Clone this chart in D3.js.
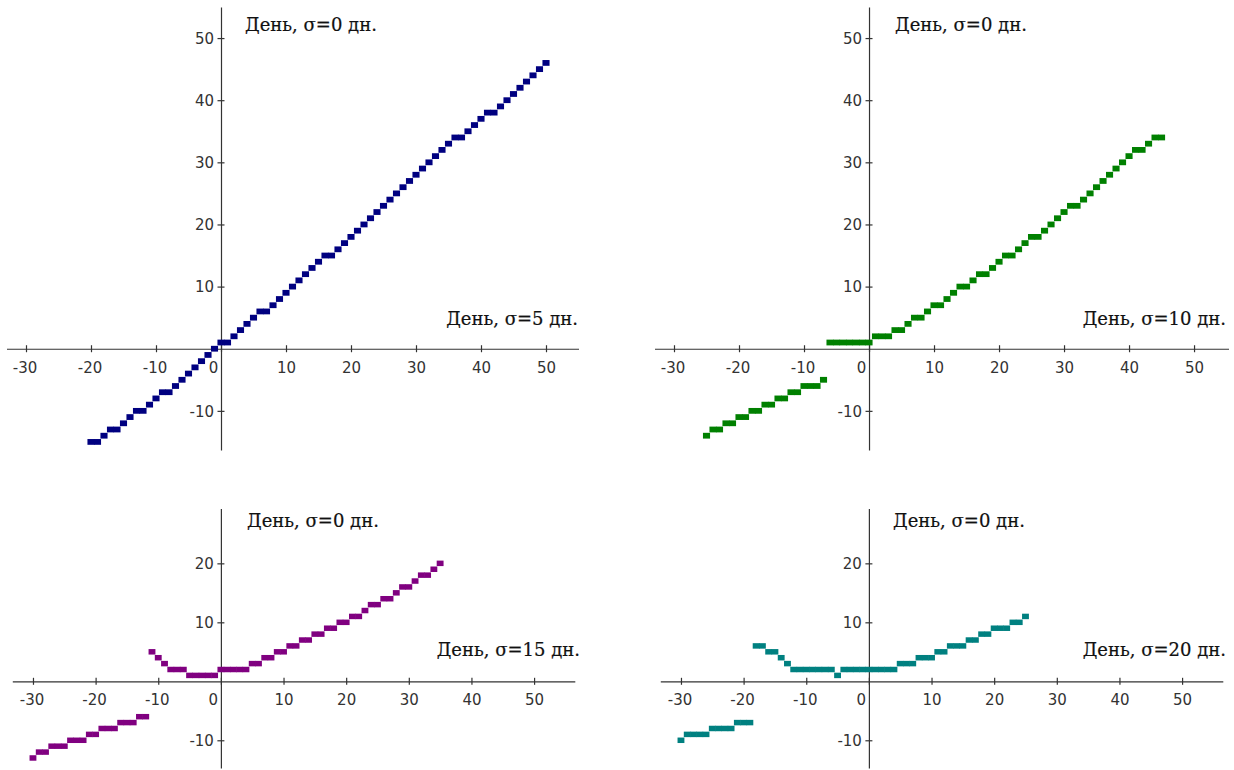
<!DOCTYPE html>
<html>
<head>
<meta charset="utf-8">
<script src="https://cdn.jsdelivr.net/npm/d3@7"></script>
<style>
  html, body { margin: 0; padding: 0; background: #fff; }
  svg { display: block; }
  .axis text { font-family: "DejaVu Sans", Verdana, sans-serif; font-size: 15px; fill: #333; }
  .axis path, .axis line { stroke: #333; stroke-width: 1.2; }
  .note { font-family: "DejaVu Serif", Georgia, serif; font-size: 18px; fill: #111;
          stroke: #111; stroke-width: 0.2; }
</style>
</head>
<body>
<svg id="chart" width="1234" height="770"></svg>
<script>
// Tick values
const xTicks = [-30, -20, -10, 0, 10, 20, 30, 40, 50];
const yTicksUpper = [-10, 10, 20, 30, 40, 50];
const yTicksLower = [-10, 10, 20];

// Texts
const noteTop = "День, σ=0 дн.";
const seriesLabels = ["День, σ=5 дн.", "День, σ=10 дн.", "День, σ=15 дн.", "День, σ=20 дн."];
const seriesColors = ["#000080", "#008000", "#800080", "#008080"];

// σ = 5 days
const days5 = [-20,-19,-18,-17,-16,-15,-14,-13,-12,-11,-10,-9,-8,-7,-6,-5,-4,-3,-2,-1,
  0,1,2,3,4,5,6,7,8,9,10,11,12,13,14,15,16,17,18,19,20,21,22,23,24,25,26,27,28,29,
  30,31,32,33,34,35,36,37,38,39,40,41,42,43,44,45,46,47,48,49,50];
const vals5 = [-15,-15,-14,-13,-13,-12,-11,-10,-10,-9,-8,-7,-7,-6,-5,-4,-3,-2,-1,0,
  1,1,2,3,4,5,6,6,7,8,9,10,11,12,13,14,15,15,16,17,18,19,20,21,22,23,24,25,26,27,
  28,29,30,31,32,33,34,34,35,36,37,38,38,39,40,41,42,43,44,45,46];

// σ = 10 days
const days10 = [-25,-24,-23,-22,-21,-20,-19,-18,-17,-16,-15,-14,-13,-12,-11,-10,-9,-8,-7,-6,
  -5,-4,-3,-2,-1,0,1,2,3,4,5,6,7,8,9,10,11,12,13,14,15,16,17,18,19,20,21,22,23,24,
  25,26,27,28,29,30,31,32,33,34,35,36,37,38,39,40,41,42,43,44,45];
const vals10 = [-14,-13,-13,-12,-12,-11,-11,-10,-10,-9,-9,-8,-8,-7,-7,-6,-6,-6,-5,1,
  1,1,1,1,1,1,2,2,2,3,3,4,5,5,6,7,7,8,9,10,10,11,12,12,13,14,15,15,16,17,
  18,18,19,20,21,22,23,23,24,25,26,27,28,29,30,31,32,32,33,34,34];

// σ = 15 days
const days15 = [-30,-29,-28,-27,-26,-25,-24,-23,-22,-21,-20,-19,-18,-17,-16,-15,-14,-13,-12,-11,
  -10,-9,-8,-7,-6,-5,-4,-3,-2,-1,0,1,2,3,4,5,6,7,8,9,10,11,12,13,14,15,16,17,18,19,
  20,21,22,23,24,25,26,27,28,29,30,31,32,33,34,35];
const vals15 = [-13,-12,-12,-11,-11,-11,-10,-10,-10,-9,-9,-8,-8,-8,-7,-7,-7,-6,-6,5,
  4,3,2,2,2,1,1,1,1,1,2,2,2,2,2,3,3,4,4,5,5,6,6,7,7,8,8,9,9,10,
  10,11,11,12,13,13,14,14,15,16,16,17,18,18,19,20];

// σ = 20 days
const days20 = [-30,-29,-28,-27,-26,-25,-24,-23,-22,-21,-20,-19,-18,-17,-16,-15,-14,-13,-12,-11,
  -10,-9,-8,-7,-6,-5,-4,-3,-2,-1,0,1,2,3,4,5,6,7,8,9,10,11,12,13,14,15,16,17,18,19,
  20,21,22,23,24,25];
const vals20 = [-10,-9,-9,-9,-9,-8,-8,-8,-8,-7,-7,-7,6,6,5,5,4,3,2,2,
  2,2,2,2,2,1,2,2,2,2,2,2,2,2,2,3,3,3,4,4,4,5,5,6,6,6,7,7,8,8,
  9,9,9,10,10,11];

// Panel layout: scale domains/ranges and text anchors
const panels = [
  { days: days5,  vals: vals5,  yTicks: yTicksUpper,
    xDom: [-33, 55],     xRange: [6.5, 578.5],     yDom: [-16.3, 55], yRange: [450, 7],
    top: [245, 31],  side: [578, 325] },
  { days: days10, vals: vals10, yTicks: yTicksUpper,
    xDom: [-33, 55.3],   xRange: [654.5, 1228.5],  yDom: [-16.3, 55], yRange: [450, 7],
    top: [895, 31],  side: [1226, 325] },
  { days: days15, vals: vals15, yTicks: yTicksLower,
    xDom: [-33.3, 56.5], xRange: [12.3, 574.8],    yDom: [-14.7, 29.3], yRange: [768, 508.5],
    top: [247, 527], side: [580, 656] },
  { days: days20, vals: vals20, yTicks: yTicksLower,
    xDom: [-33.3, 56.5], xRange: [660.3, 1222.8],  yDom: [-14.7, 29.3], yRange: [768, 508.5],
    top: [893, 527], side: [1226, 656] }
];

const svg = d3.select("#chart");
svg.append("rect").attr("width", 1234).attr("height", 770).attr("fill", "#fff");

panels.forEach((p, i) => {
  const x = d3.scaleLinear().domain(p.xDom).range(p.xRange);
  const y = d3.scaleLinear().domain(p.yDom).range(p.yRange);
  const g = svg.append("g");

  // horizontal axis through y = 0, ticks crossing the line
  const gx = g.append("g").attr("class", "axis")
    .attr("transform", `translate(0,${y(0)})`)
    .call(d3.axisBottom(x).tickValues(xTicks).tickSize(0).tickSizeOuter(0)
      .tickFormat(d => String(d)));
  gx.selectAll(".tick line").attr("y1", -3.5).attr("y2", 3.5);
  gx.selectAll(".tick text").attr("y", 13.5).attr("dy", "0.71em")
    .attr("dx", d => d === 0 ? -8 : (d < 0 ? -1.5 : 0));

  // vertical axis through x = 0
  const gy = g.append("g").attr("class", "axis")
    .attr("transform", `translate(${x(0)},0)`)
    .call(d3.axisLeft(y).tickValues(p.yTicks).tickSize(0).tickSizeOuter(0)
      .tickFormat(d => String(d)));
  gy.selectAll(".tick line").attr("x1", -3.5).attr("x2", 3.5);
  gy.selectAll(".tick text").attr("x", -7).attr("dy", "0.36em");
  svg.selectAll(".axis .domain").attr("fill", "none");

  // one cell per day; cells of equal value on neighbouring days join into a bar
  const uw = Math.abs(x(1) - x(0));
  const uh = Math.abs(y(0) - y(1)) * 0.93;
  g.append("g").selectAll("rect")
    .data(d3.zip(p.days, p.vals))
    .join("rect")
    .attr("x", d => x(d[0] - 0.5) - 0.3)
    .attr("y", d => y(d[1]) - uh / 2)
    .attr("width", uw + 0.6)
    .attr("height", uh)
    .attr("fill", seriesColors[i]);

  // annotations
  g.append("text").attr("class", "note")
    .attr("x", p.top[0]).attr("y", p.top[1]).text(noteTop);
  g.append("text").attr("class", "note")
    .attr("x", p.side[0]).attr("y", p.side[1]).attr("text-anchor", "end")
    .text(seriesLabels[i]);
});
</script>
</body>
</html>
